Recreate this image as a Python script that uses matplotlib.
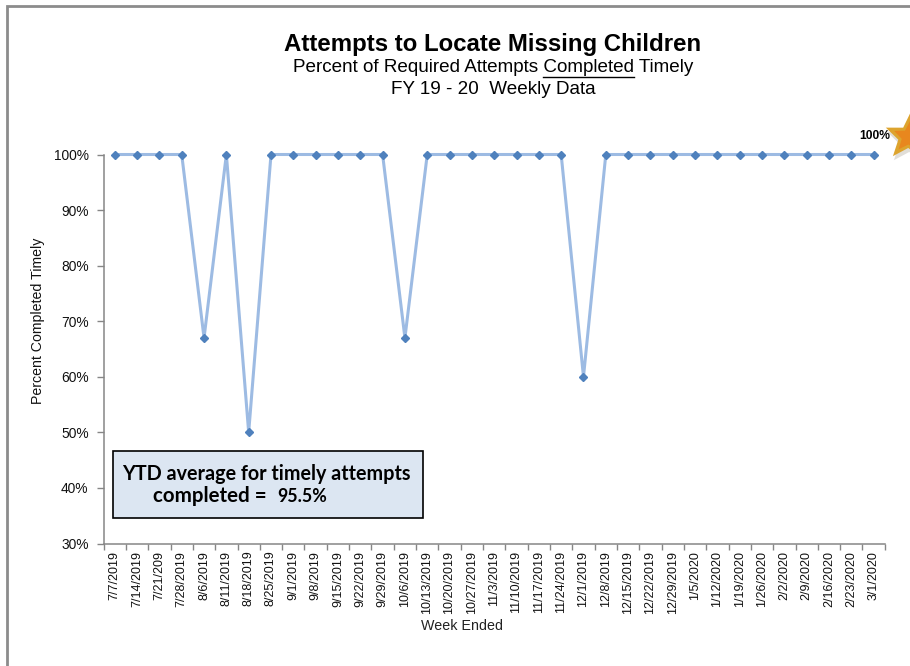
import numpy as np
import matplotlib
matplotlib.use("Agg")
import matplotlib.pyplot as plt
from matplotlib.patches import Polygon, Rectangle
from matplotlib.lines import Line2D

# ── Data ─────────────────────────────────────────
WEEKS = [
    "7/7/2019", "7/14/2019", "7/21/209", "7/28/2019", "8/6/2019", "8/11/2019",
    "8/18/2019", "8/25/2019", "9/1/2019", "9/8/2019", "9/15/2019", "9/22/2019",
    "9/29/2019", "10/6/2019", "10/13/2019", "10/20/2019", "10/27/2019",
    "11/3/2019", "11/10/2019", "11/17/2019", "11/24/2019", "12/1/2019",
    "12/8/2019", "12/15/2019", "12/22/2019", "12/29/2019", "1/5/2020",
    "1/12/2020", "1/19/2020", "1/26/2020", "2/2/2020", "2/9/2020",
    "2/16/2020", "2/23/2020", "3/1/2020",
]
PCT = [
    100, 100, 100, 100, 67, 100, 50, 100, 100, 100, 100, 100, 100, 67, 100,
    100, 100, 100, 100, 100, 100, 60, 100, 100, 100, 100, 100, 100, 100, 100,
    100, 100, 100, 100, 100,
]
Y_TICKS = [30, 40, 50, 60, 70, 80, 90, 100]

W, H = 910, 666
SANS = "Liberation Sans"
GREY = "#868686"
plt.rcParams["font.family"] = [SANS, "DejaVu Sans"]


def fx(x):
    return x / W


def fy(y):
    return 1 - y / H


def star_points(cx, cy, r_out, r_in, rot):
    ang = np.radians(rot) + np.arange(10) * np.pi / 5
    rad = np.where(np.arange(10) % 2 == 0, r_out, r_in)
    return np.column_stack([fx(cx + rad * np.sin(ang)), fy(cy - rad * np.cos(ang))])


fig = plt.figure(figsize=(W / 100, H / 100), dpi=100, facecolor="white")

# Outer chart border (top and left only are visible in the crop)
fig.add_artist(Line2D([fx(7), fx(7), fx(W)], [0, fy(5.5), fy(5.5)],
                      color="#8c8c8c", lw=2.0, solid_joinstyle="miter"))

# ── Axes ─────────────────────────────────────────
ax = fig.add_axes([fx(103.6), fy(543.5), fx(884.8 - 103.6), (543.5 - 154.5) / H])
x = np.arange(len(WEEKS))
ax.plot(x, PCT, color="#9DBBE3", lw=2.2, marker="D", ms=4.5, mfc="#4F81BD",
        mec="#4F81BD", clip_on=False, zorder=3)

ax.set_xlim(-0.5, len(WEEKS) - 0.5)
ax.set_ylim(30, 100)
ax.set_yticks(Y_TICKS)
ax.set_yticklabels([f"{v}%" for v in Y_TICKS], fontsize=9.9, color="#111111")
ax.set_xticks(np.arange(len(WEEKS) + 1) - 0.5)
ax.set_xticklabels([])
ax.set_xticks(x, minor=True)
ax.set_xticklabels(WEEKS, minor=True, rotation=90, fontsize=9.0, color="#111111",
                   ha="center", va="top")
ax.tick_params(axis="x", which="major", length=4, width=1, color=GREY)
ax.tick_params(axis="x", which="minor", length=0, pad=5.2)
ax.tick_params(axis="y", length=5, width=1, color=GREY, pad=5.8)
for side in ("top", "right"):
    ax.spines[side].set_visible(False)
for side in ("left", "bottom"):
    ax.spines[side].set_color(GREY)
    ax.spines[side].set_linewidth(1.1)

fig.text(fx(38), fy(321), "Percent Completed Timely", rotation=90, fontsize=10.2,
         ha="center", va="center", color="#111111")
fig.text(fx(462), fy(626), "Week Ended", fontsize=10.3, ha="center", va="center",
         color="#222222")

# ── Titles ───────────────────────────────────────
fig.text(fx(492.5), fy(44.5), "Attempts to Locate Missing Children", fontsize=17.25,
         fontweight="bold", ha="center", va="center", color="black")
sub = fig.text(fx(493), fy(67.5), "Percent of Required Attempts Completed Timely",
               fontsize=13.6, ha="center", va="center", color="black")
fig.text(fx(493), fy(89), "FY 19 - 20  Weekly Data", fontsize=13.6, ha="center",
         va="center", color="black")

# Underline "Completed" using measured text extents
fig.canvas.draw()
rend = fig.canvas.get_renderer()
full = sub.get_window_extent(rend)
probe = fig.text(0, 0, "Percent of Required Attempts ", fontsize=13.6)
pre = rend.get_text_width_height_descent(probe.get_text(), probe.get_fontproperties(), False)[0]
probe.set_text("Completed")
word = probe.get_window_extent(rend).width
probe.remove()
fig.add_artist(Line2D([(full.x0 + pre) / W, (full.x0 + pre + word) / W],
                      [fy(76.5), fy(76.5)], color="black", lw=1.0))

# ── YTD box ──────────────────────────────────────
fig.add_artist(Rectangle((fx(112.5), fy(518)), fx(423 - 112.5), (518 - 450.5) / H,
                         facecolor="#DCE6F2", edgecolor="black", lw=1.2,
                         transform=fig.transFigure))
fig.text(fx(122), fy(474), "YTD average for timely attempts", fontsize=14.2,
         fontweight="bold", family="Lato", ha="left", va="center", color="black")
fig.text(fx(153), fy(496), "completed =", fontsize=14.8, fontweight="bold",
         family="Lato", ha="left", va="center", color="black")
fig.text(fx(277), fy(496.5), "95.5%", fontsize=12.8, fontweight="bold",
         family="Lato", ha="left", va="center", color="black")

# ── Star decoration with last-value label ────────
fig.add_artist(Polygon(star_points(910, 141, 25, 11, -68), closed=True,
                       facecolor="#d5d0c8", edgecolor="none", alpha=0.7,
                       transform=fig.transFigure))
fig.add_artist(Polygon(star_points(909, 137, 25, 11, -68), closed=True,
                       facecolor="#DDA42E", edgecolor="none",
                       transform=fig.transFigure))
fig.add_artist(Polygon(star_points(909, 137, 16, 7.5, -68), closed=True,
                       facecolor="#E8871E", edgecolor="none",
                       transform=fig.transFigure))
fig.text(fx(874.5), fy(136), "100%", fontsize=8.7, fontweight="bold", ha="center",
         va="center", color="black")

fig.savefig("out.png", dpi=100)
